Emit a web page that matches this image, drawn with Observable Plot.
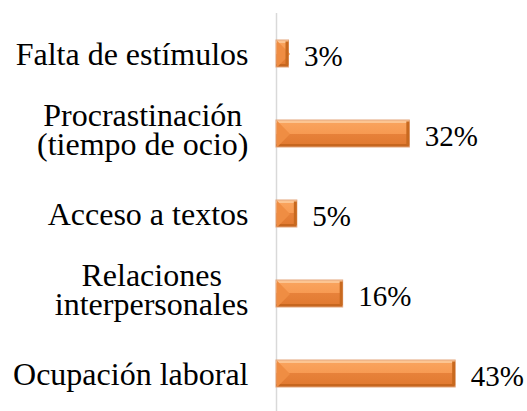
<!DOCTYPE html>
<html><head><meta charset="utf-8">
<script src="https://cdn.jsdelivr.net/npm/d3@7"></script>
<script src="https://cdn.jsdelivr.net/npm/@observablehq/plot@0.6"></script>
<style>
html,body{margin:0;padding:0;background:#fff;overflow:hidden}
svg text{font-family:"Liberation Serif","Times New Roman","DejaVu Serif",serif !important}
</style>
</head><body><div id="chart"></div>
<script>
const categories = ["Falta de estímulos", "Procrastinación\n(tiempo de ocio)", "Acceso a textos", "Relaciones\ninterpersonales", "Ocupación laboral"];
const values = [3, 32, 5, 16, 43];
const valueLabels = ["3%", "32%", "5%", "16%", "43%"];

const data = categories.map((c, i) => ({cat: c, v: values[i], label: valueLabels[i], lines: c.split("\n")}));
const serif = "'Liberation Serif','Times New Roman','DejaVu Serif',serif";

const canvas = document.createElement("canvas");
const cx = canvas.getContext("2d");
cx.font = "32px 'Liberation Serif','Times New Roman','DejaVu Serif',serif";
const maxW = lines => Math.max(...lines.map(l => cx.measureText(l).width));

const chevron = {
  draw(ctx) {
    ctx.moveTo(0, -13.2);
    ctx.lineTo(13, 0);
    ctx.lineTo(0, 13.2);
    ctx.closePath();
  }
};

const labelMarks = data.map(d => d.lines.length === 1
  ? Plot.text([d], {x: 0, y: "cat", text: "cat", textAnchor: "end", dx: -28, dy: 1, fontSize: 32, fill: "#000"})
  : Plot.text([d], {x: 0, y: "cat", text: "cat", textAnchor: "middle", dx: -28 - maxW(d.lines) / 2, dy: -2.5, fontSize: 32, lineHeight: 0.91, fill: "#000"}));

const chart = Plot.plot({
  width: 527, height: 411,
  marginTop: 13, marginBottom: 0, marginLeft: 276, marginRight: 1,
  x: {domain: [0, 60], axis: null},
  y: {domain: categories, axis: null, paddingInner: 0.657, paddingOuter: 0.308, align: 0.53},
  style: {fontFamily: serif, background: "#fff", overflow: "visible"},
  marks: [
    Plot.ruleX([0], {stroke: "#D9D9D9", strokeWidth: 1.5}),
    Plot.barX(data, {x: "v", y: "cat", fill: "url(#bevel)", stroke: "#E3A57C", strokeWidth: 1}),
    Plot.dot(data, {x: 0, y: "cat", symbol: chevron, fill: "#EF8D43", stroke: "none", dx: 0.5}),
    Plot.tickX(data, {x: "v", y: "cat", stroke: "#C8691F", strokeWidth: 3, dx: -2, insetTop: 1.5, insetBottom: 1.5}),
    ...labelMarks,
    Plot.text(data, {x: "v", y: "cat", text: "label", textAnchor: "start", dx: 15, dy: 2.5, fontSize: 29, fill: "#000"})
  ]
});

const svg = d3.select(chart);
const defs = svg.insert("defs", ":first-child");
const g = defs.append("linearGradient").attr("id", "bevel")
  .attr("x1", 0).attr("y1", 0).attr("x2", 0).attr("y2", 1);
[[0, "#FCC592"], [0.1, "#FCC592"], [0.1, "#F9A35D"], [0.5, "#F79A52"], [0.5, "#E7813A"], [0.88, "#E27B32"], [0.88, "#C6661F"], [1, "#C6661F"]]
  .forEach(([o, c]) => g.append("stop").attr("offset", o).attr("stop-color", c));

document.getElementById("chart").appendChild(chart);
</script>
</body></html>
